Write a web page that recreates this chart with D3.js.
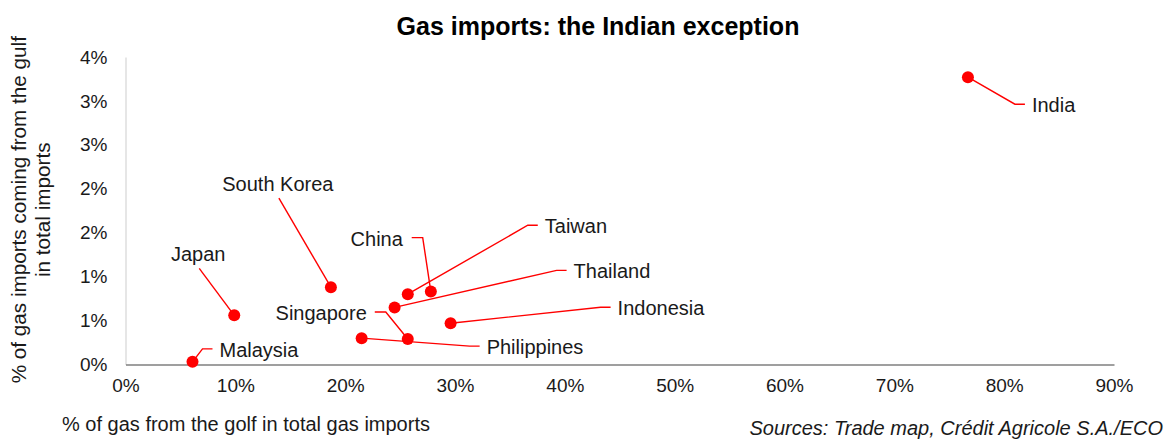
<!DOCTYPE html>
<html>
<head>
<meta charset="utf-8">
<script src="https://cdn.jsdelivr.net/npm/d3@7"></script>
<style>
  html, body { margin: 0; padding: 0; background: #fff; }
  svg { display: block; font-family: "Liberation Sans", Arial, sans-serif; }
  .axis text { fill: #1a1a1a; font-size: 19px; }
  .lbl { fill: #1a1a1a; font-size: 20px; }
</style>
</head>
<body>
<svg id="chart" width="1166" height="439"></svg>
<script>
// Share of gas imported from the Gulf (x) vs. Gulf gas in total imports (y), in %
const countries = ["India", "South Korea", "Japan", "Malaysia", "China", "Taiwan",
                   "Thailand", "Singapore", "Philippines", "Indonesia"];
const gasFromGulf = [76.7, 18.7, 9.9, 6.1, 27.8, 25.7, 24.5, 25.7, 21.5, 29.6];
const gulfShareOfImports = [3.27, 0.88, 0.56, 0.03, 0.83, 0.80, 0.65, 0.29, 0.30, 0.47];

const xTickValues = [0, 10, 20, 30, 40, 50, 60, 70, 80, 90];
const xTickLabels = ["0%", "10%", "20%", "30%", "40%", "50%", "60%", "70%", "80%", "90%"];
const yTickValues = [0, 0.5, 1, 1.5, 2, 2.5, 3, 3.5];
const yTickLabels = ["0%", "1%", "1%", "2%", "2%", "3%", "3%", "4%"];

// Label placement (pixel offsets from each point) and text anchoring
const labelLayout = {
  "India":       { dx: 64,  dy: 28,   anchor: "start" },
  "South Korea": { dx: -53, dy: -103, anchor: "middle" },
  "Japan":       { dx: -36, dy: -61,  anchor: "middle" },
  "Malaysia":    { dx: 27,  dy: -12,  anchor: "start" },
  "China":       { dx: -28, dy: -53,  anchor: "end" },
  "Taiwan":      { dx: 137, dy: -68,  anchor: "start" },
  "Thailand":    { dx: 179, dy: -36,  anchor: "start" },
  "Singapore":   { dx: -41, dy: -26,  anchor: "end" },
  "Philippines": { dx: 125, dy: 9,    anchor: "start" },
  "Indonesia":   { dx: 167, dy: -15,  anchor: "start" }
};

const svg = d3.select("#chart");
const W = 1166, H = 439;
const margin = { left: 125.5, right: 52, top: 57, bottom: 74.5 };

const x = d3.scaleLinear().domain([0, 90]).range([margin.left, W - margin.right]);
const y = d3.scaleLinear().domain([0, 3.5]).range([H - margin.bottom, margin.top]);

// Title
svg.append("text")
  .attr("x", 598).attr("y", 35)
  .attr("text-anchor", "middle")
  .style("font-size", "25px").style("font-weight", "bold").style("fill", "#000")
  .text("Gas imports: the Indian exception");

// Y axis
const yAxis = svg.append("g").attr("class", "axis")
  .attr("transform", `translate(${x(0)},0)`)
  .call(d3.axisLeft(y).tickValues(yTickValues)
    .tickFormat((d, i) => yTickLabels[i]).tickSize(0).tickPadding(18));
yAxis.select(".domain").attr("stroke", "#d9d9d9").attr("stroke-width", 1.3);

// X axis
const xAxis = svg.append("g").attr("class", "axis")
  .attr("transform", `translate(0,${y(0)})`)
  .call(d3.axisBottom(x).tickValues(xTickValues)
    .tickFormat((d, i) => xTickLabels[i]).tickSize(0).tickPadding(14));
xAxis.select(".domain").attr("stroke", "#7f7f7f").attr("stroke-width", 1.3);

// Axis titles
const yTitle = svg.append("text")
  .attr("class", "lbl")
  .style("font-size", "20.7px")
  .attr("transform", `translate(26,${(y(0) + y(3.5)) / 2 - 1}) rotate(-90)`)
  .attr("text-anchor", "middle");
yTitle.append("tspan").attr("x", 0).attr("dy", 0).text("% of gas imports coming from the gulf");
yTitle.append("tspan").attr("x", 0).attr("dy", 24).text("in total imports");

svg.append("text").attr("class", "lbl")
  .attr("x", 62).attr("y", 431)
  .text("% of gas from the golf in total gas imports");

svg.append("text").attr("class", "lbl")
  .attr("x", 1163).attr("y", 435).attr("text-anchor", "end")
  .style("font-style", "italic")
  .text("Sources: Trade map, Crédit Agricole S.A./ECO");

// Points data
const pts = countries.map((c, i) => ({
  name: c, px: x(gasFromGulf[i]), py: y(gulfShareOfImports[i]), lay: labelLayout[c]
}));

const leaders = svg.append("g");
const labels = svg.append("g");
const dots = svg.append("g");

// Labels, measured for the leader lines
pts.forEach(p => {
  const t = labels.append("text").attr("class", "lbl")
    .attr("x", p.px + p.lay.dx).attr("y", p.py + p.lay.dy)
    .attr("dy", "0.35em")
    .attr("text-anchor", p.lay.anchor)
    .text(p.name);
  p.bbox = t.node().getBBox();
});

// Leader lines from each point to its label
pts.forEach(p => {
  const tx = p.px + p.lay.dx, ty = p.py + p.lay.dy;
  let path;
  if (p.lay.anchor === "middle") {
    path = [[tx + 1, ty + 14], [p.px, p.py]];
  } else if (p.lay.anchor === "start") {
    const endX = p.bbox.x - 7;
    const elbowX = endX - 10;
    path = [[p.px, p.py], [elbowX, ty - 1], [endX, ty - 1]];
  } else {
    const endX = p.bbox.x + p.bbox.width + 8;
    const elbowX = endX + 11;
    path = [[p.px, p.py], [elbowX, ty - 1], [endX, ty - 1]];
  }
  leaders.append("path")
    .attr("d", d3.line()(path))
    .attr("fill", "none").attr("stroke", "#ff0000").attr("stroke-width", 1.4);
});

// Points
dots.selectAll("circle").data(pts).join("circle")
  .attr("cx", d => d.px).attr("cy", d => d.py).attr("r", 6)
  .attr("fill", "#ff0000");
</script>
</body>
</html>
